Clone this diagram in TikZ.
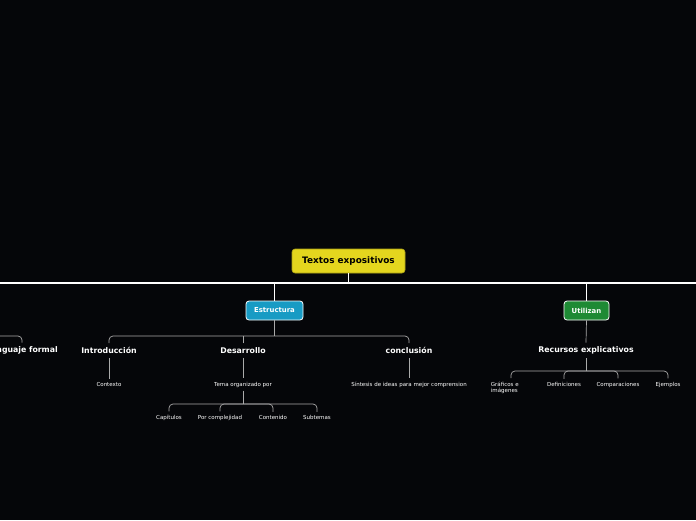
\documentclass[tikz,border=0pt]{standalone}
\usepackage{fontspec}
\setmainfont{DejaVu Sans}
\definecolor{bg}{RGB}{5,6,9}
\definecolor{rootc}{RGB}{228,214,30}
\definecolor{bluec}{RGB}{24,155,196}
\definecolor{greenc}{RGB}{30,138,52}
\definecolor{subline}{RGB}{170,170,170}
\begin{document}
\begin{tikzpicture}[x=1pt,y=-1pt,
  rootbox/.style={fill=rootc,draw=rootc!75!black,line width=0.6pt,rounded corners=3pt,minimum width=113pt,minimum height=24pt,inner sep=0pt,font=\fontsize{8.9}{10}\selectfont\bfseries,text=black},
  lvlbox/.style={draw=white,line width=0.8pt,rounded corners=3pt,minimum height=19pt,inner sep=0pt,font=\fontsize{6.9}{8}\selectfont\bfseries,text=white},
  lvltwo/.style={inner sep=4pt,font=\fontsize{7.8}{9}\selectfont\bfseries,text=white},
  leaf/.style={inner sep=3.2pt,font=\fontsize{5.5}{6.5}\selectfont,text=white,align=center},
  mainline/.style={draw=white,line width=1.2pt},
  subline/.style={draw=subline,line width=0.7pt,rounded corners=4pt}]
\fill[bg] (0,0) rectangle (696,520);
\useasboundingbox (0,0) rectangle (696,520);
\clip (0,0) rectangle (696,520);
% nodes
\node[rootbox] (root) at (348.5,261) {Textos expositivos};
\node[lvlbox,fill=bluec,minimum width=57pt] (estr) at (274.5,310.5) {Estructura};
\node[lvlbox,fill=greenc,minimum width=45pt] (util) at (586.5,310.5) {Utilizan};
\node[lvltwo] (leng) at (22,350.5) {Lenguaje formal};
\node[lvltwo] (intro) at (109,350.5) {Introducción};
\node[lvltwo] (desa) at (243,350.5) {Desarrollo};
\node[lvltwo] (concl) at (409,350.5) {conclusión};
\node[lvltwo] (recu) at (586,350.5) {Recursos explicativos};
\node[leaf] (ctx) at (109,384.5) {Contexto};
\node[leaf] (tema) at (243,384.5) {Tema organizado por};
\node[leaf] (sint) at (409,384.5) {Síntesis de ideas para mejor comprension};
\node[leaf] (cap) at (169,417.5) {Capítulos};
\node[leaf] (comp) at (220,417.5) {Por complejidad};
\node[leaf] (cont) at (273,417.5) {Contenido};
\node[leaf] (subt) at (317,417.5) {Subtemas};
\node[leaf,align=left,anchor=west] (graf) at (487.5,388) {Gráficos e\\imágenes};
\node[leaf] (defi) at (564,384.5) {Definiciones};
\node[leaf] (compa) at (618,384.5) {Comparaciones};
\node[leaf] (ejem) at (668,384.5) {Ejemplos};
% main bus
\coordinate (busL) at (0,283);
\coordinate (busR) at (696,283);
\draw[mainline] (root.south) -- (root.south |- busL);
\draw[mainline] (busL) -- (busR);
\draw[mainline] (estr.north |- busL) -- (estr.north);
\draw[mainline] (util.north |- busL) -- (util.north);
% left subtree
\coordinate (lbus) at (0,336);
\draw[subline] (lbus) -| (leng.north);
% Estructura subtree
\draw[subline] (estr.south) -- (estr.south |- lbus);
\draw[subline] (intro.north) |- (estr.south |- lbus) -| (concl.north);
\draw[subline] (desa.north) -- (desa.north |- lbus);
\draw[subline] (intro.south) -- (ctx.north);
\draw[subline] (desa.south) -- (tema.north);
\draw[subline] (concl.south) -- (sint.north);
\coordinate (tbus) at (243,404);
\draw[subline] (tema.south) -- (tbus);
\draw[subline] (cap.north) |- (tbus) -| (subt.north);
\draw[subline] (comp.north) |- (tbus);
\draw[subline] (cont.north) |- (tbus);
% Utilizan subtree
\draw[subline] (util.south) -- (recu.north);
\coordinate (rbus) at (586,371);
\draw[subline] (recu.south) -- (rbus);
\draw[subline] (511,378) |- (rbus) -| (ejem.north);
\draw[subline] (defi.north) |- (rbus);
\draw[subline] (compa.north) |- (rbus);
\end{tikzpicture}
\end{document}
